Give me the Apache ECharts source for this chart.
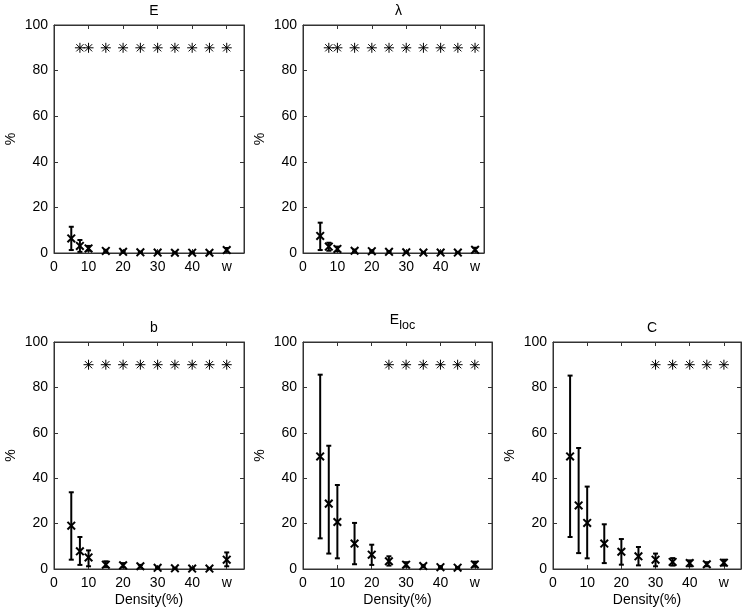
<!DOCTYPE html>
<html>
<head>
<meta charset="utf-8">
<script src="https://cdn.jsdelivr.net/npm/echarts@6/dist/echarts.min.js"></script>
<style>html,body{margin:0;padding:0;background:#fff}#c{width:747px;height:613px}</style>
</head>
<body>
<div id="c"></div>
<script>
// ---- data ----
const densities = [5, 7.5, 10, 15, 20, 25, 30, 35, 40, 45, 50];
const xTickValues = [0, 10, 20, 30, 40, 50];
const xTickLabels = ['0', '10', '20', '30', '40', 'w'];
const sigLevel = 90;

const E_mean = [6.4, 3.1, 2.0, 0.9, 0.5, 0.3, 0.2, 0.1, 0.15, 0.1, 1.3];
const E_lo   = [1.3, 0.5, 1.0, 0.5, 0.2, 0.1, 0.05, 0.0, 0.05, 0.0, 0.6];
const E_hi   = [11.5, 5.7, 3.1, 1.4, 0.9, 0.6, 0.4, 0.3, 0.3, 0.25, 2.2];
const E_sig  = [7.5, 10, 15, 20, 25, 30, 35, 40, 45, 50];

const L_mean = [7.5, 2.8, 1.8, 1.0, 0.8, 0.5, 0.3, 0.2, 0.2, 0.2, 1.4];
const L_lo   = [1.3, 1.0, 0.8, 0.5, 0.4, 0.2, 0.1, 0.05, 0.05, 0.05, 0.7];
const L_hi   = [13.3, 4.5, 2.8, 1.5, 1.2, 0.8, 0.5, 0.4, 0.4, 0.35, 2.3];
const L_sig  = [7.5, 10, 15, 20, 25, 30, 35, 40, 45, 50];

const B_mean = [19.1, 7.8, 5.1, 1.9, 1.6, 1.2, 0.5, 0.3, 0.2, 0.2, 4.1];
const B_lo   = [4.1, 1.8, 1.2, 0.9, 0.7, 0.6, 0.2, 0.1, 0.05, 0.05, 1.2];
const B_hi   = [33.8, 14.1, 8.2, 3.4, 2.6, 1.8, 0.8, 0.5, 0.35, 0.35, 7.3];
const B_sig  = [10, 15, 20, 25, 30, 35, 40, 45, 50];

const Eloc_mean = [49.6, 28.8, 20.7, 11.2, 6.3, 3.4, 1.9, 1.3, 0.8, 0.6, 2.0];
const Eloc_lo   = [13.5, 6.8, 4.7, 2.1, 1.8, 1.5, 1.0, 0.8, 0.4, 0.3, 1.0];
const Eloc_hi   = [85.6, 54.3, 37.0, 20.3, 10.7, 5.6, 3.0, 1.8, 1.2, 0.9, 3.2];
const Eloc_sig  = [25, 30, 35, 40, 45, 50];

const C_mean = [49.6, 28.0, 20.3, 11.2, 7.6, 5.6, 4.1, 3.1, 2.6, 2.1, 2.8];
const C_lo   = [14.1, 7.0, 4.7, 2.6, 1.9, 1.6, 1.2, 1.5, 1.2, 1.2, 1.5];
const C_hi   = [85.2, 53.3, 36.3, 19.7, 13.2, 9.7, 6.8, 4.8, 3.8, 3.0, 4.1];
const C_sig  = [30, 35, 40, 45, 50];

const panels = [
  {title: 'E', mean: E_mean, lo: E_lo, hi: E_hi, sig: E_sig, xmax: 55, box: [54, 25, 190, 228], xname: '', tOff: 26},
  {title: 'λ', mean: L_mean, lo: L_lo, hi: L_hi, sig: L_sig, xmax: 52.6, box: [303, 25, 181, 228], xname: '', tOff: 26},
  {title: 'b', mean: B_mean, lo: B_lo, hi: B_hi, sig: B_sig, xmax: 55, box: [54, 342, 190, 227], xname: 'Density(%)', tOff: 26},
  {title: '{a|E}{s|loc}', mean: Eloc_mean, lo: Eloc_lo, hi: Eloc_hi, sig: Eloc_sig, xmax: 55, box: [303, 342, 189, 227], xname: 'Density(%)', tOff: 39},
  {title: 'C', mean: C_mean, lo: C_lo, hi: C_hi, sig: C_sig, xmax: 55, box: [553, 342, 188, 227], xname: 'Density(%)', tOff: 26}
];

const FONT = '"Liberation Sans", Arial, sans-serif';
const FS = 14;
const AX = '#333';
const grids = [], xAxes = [], yAxes = [], series = [], titles = [];

panels.forEach((p, i) => {
  const [l, t, w, h] = p.box;
  grids.push({left: l, top: t, width: w, height: h, containLabel: false,
    show: true, borderColor: AX, borderWidth: 1, backgroundColor: '#fff'});
  const tickMap = {};
  xTickValues.forEach((v, k) => tickMap[v] = xTickLabels[k]);
  xAxes.push({
    gridIndex: i, type: 'value', min: 0, max: p.xmax, interval: 10, position: 'bottom',
    splitLine: {show: false},
    axisLine: {show: true, onZero: false, lineStyle: {color: AX, width: 1}},
    axisTick: {show: true, inside: true, length: 4, lineStyle: {color: AX}},
    axisLabel: {color: '#000', fontFamily: FONT, fontSize: FS, margin: 7,
      showMaxLabel: true,
      formatter: v => (tickMap[v] !== undefined ? tickMap[v] : '')},
    name: p.xname, nameLocation: 'middle', nameGap: 24,
    nameTextStyle: {color: '#000', fontFamily: FONT, fontSize: FS}
  });
  xAxes.push({
    gridIndex: i, type: 'value', min: 0, max: p.xmax, interval: 10, position: 'top',
    splitLine: {show: false},
    axisLine: {show: true, onZero: false, lineStyle: {color: AX, width: 1}},
    axisTick: {show: true, inside: true, length: 4, lineStyle: {color: AX}},
    axisLabel: {show: false}
  });
  yAxes.push({
    gridIndex: i, type: 'value', min: 0, max: 100, interval: 20, position: 'left',
    splitLine: {show: false},
    axisLine: {show: true, onZero: false, lineStyle: {color: AX, width: 1}},
    axisTick: {show: true, inside: true, length: 4, lineStyle: {color: AX}},
    axisLabel: {color: '#000', fontFamily: FONT, fontSize: FS, margin: 6},
    name: '%', nameLocation: 'middle', nameGap: 36, nameRotate: 90,
    nameTextStyle: {color: '#000', fontFamily: FONT, fontSize: FS}
  });
  yAxes.push({
    gridIndex: i, type: 'value', min: 0, max: 100, interval: 20, position: 'right',
    splitLine: {show: false},
    axisLine: {show: true, onZero: false, lineStyle: {color: AX, width: 1}},
    axisTick: {show: true, inside: true, length: 4, lineStyle: {color: AX}},
    axisLabel: {show: false}
  });
  titles.push({
    text: p.title, left: l + w / 2, top: t - p.tOff, textAlign: 'center',
    textStyle: {color: '#000', fontFamily: FONT, fontSize: FS, fontWeight: 'normal',
      rich: {a: {fontFamily: FONT, fontSize: FS, color: '#000'},
             s: {fontFamily: FONT, fontSize: 12.5, color: '#000', padding: [11, 0, 0, 0]}}}
  });

  const ebData = densities.map((x, k) => [x, p.lo[k], p.hi[k], p.mean[k]]);
  series.push({
    type: 'custom', xAxisIndex: 2 * i, yAxisIndex: 2 * i, data: ebData,
    encode: {x: 0, y: [1, 2, 3]}, silent: true, clip: false,
    renderItem: (params, api) => {
      const x = api.value(0);
      const pl = api.coord([x, api.value(1)]);
      const ph = api.coord([x, api.value(2)]);
      const pm = api.coord([x, api.value(3)]);
      const st = {stroke: '#000', lineWidth: 2, fill: null};
      const c = 2.5, m = 3.8;
      return {type: 'group', children: [
        {type: 'line', shape: {x1: pl[0], y1: pl[1], x2: ph[0], y2: ph[1]}, style: st},
        {type: 'line', shape: {x1: pl[0] - c, y1: pl[1], x2: pl[0] + c, y2: pl[1]}, style: st},
        {type: 'line', shape: {x1: ph[0] - c, y1: ph[1], x2: ph[0] + c, y2: ph[1]}, style: st},
        {type: 'line', shape: {x1: pm[0] - m, y1: pm[1] - m, x2: pm[0] + m, y2: pm[1] + m}, style: st},
        {type: 'line', shape: {x1: pm[0] - m, y1: pm[1] + m, x2: pm[0] + m, y2: pm[1] - m}, style: st}
      ]};
    }
  });
  series.push({
    type: 'custom', xAxisIndex: 2 * i, yAxisIndex: 2 * i,
    data: p.sig.map(x => [x, sigLevel]), encode: {x: 0, y: 1}, silent: true,
    renderItem: (params, api) => {
      const pt = api.coord([api.value(0), api.value(1)]);
      const r = 5, d = 3.6;
      const st = {stroke: '#000', lineWidth: 1, fill: null};
      return {type: 'group', children: [
        {type: 'line', shape: {x1: pt[0] - r, y1: pt[1], x2: pt[0] + r, y2: pt[1]}, style: st},
        {type: 'line', shape: {x1: pt[0], y1: pt[1] - r, x2: pt[0], y2: pt[1] + r}, style: st},
        {type: 'line', shape: {x1: pt[0] - d, y1: pt[1] - d, x2: pt[0] + d, y2: pt[1] + d}, style: st},
        {type: 'line', shape: {x1: pt[0] - d, y1: pt[1] + d, x2: pt[0] + d, y2: pt[1] - d}, style: st}
      ]};
    }
  });
});

const chart = echarts.init(document.getElementById('c'), null, {renderer: 'canvas'});
chart.setOption({
  animation: false,
  backgroundColor: '#fff',
  title: titles,
  grid: grids,
  xAxis: xAxes,
  yAxis: yAxes,
  series: series
});
</script>
</body>
</html>
